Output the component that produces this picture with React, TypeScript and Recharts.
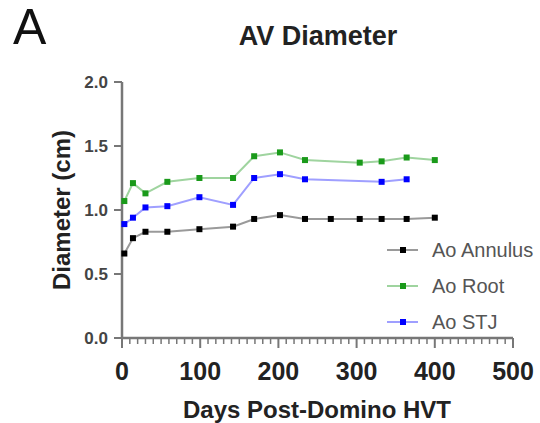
import React from 'react';
import { LineChart, Line, XAxis, YAxis, Legend } from 'recharts';

// ---- data ----
const ANNULUS_DAYS = [3, 14, 30, 58, 99, 142, 169, 202, 234, 267, 304, 332, 364, 400];
const ANNULUS_VALUES = [0.66, 0.78, 0.83, 0.83, 0.85, 0.87, 0.93, 0.96, 0.93, 0.93, 0.93, 0.93, 0.93, 0.94];

const ROOT_DAYS = [3, 14, 30, 58, 99, 142, 169, 202, 234, 304, 332, 364, 400];
const ROOT_VALUES = [1.07, 1.21, 1.13, 1.22, 1.25, 1.25, 1.42, 1.45, 1.39, 1.37, 1.38, 1.41, 1.39];

const STJ_DAYS = [3, 14, 30, 58, 99, 142, 169, 202, 234, 332, 364];
const STJ_VALUES = [0.89, 0.94, 1.02, 1.03, 1.10, 1.04, 1.25, 1.28, 1.24, 1.22, 1.24];

const SERIES_NAMES = ['Ao Annulus', 'Ao Root', 'Ao STJ'];
const X_MAJOR_STEP = 100;
const X_TICKS = Array.from({ length: 51 }, (_, i) => i * 10); // minor ticks every 10, labels every 100
const Y_TICKS = [0, 0.5, 1.0, 1.5, 2.0];

const TITLE = 'AV Diameter';
const PANEL = 'A';
const X_LABEL = 'Days Post-Domino HVT';
const Y_LABEL = 'Diameter (cm)';

const toData = (days: number[], vals: number[]) => days.map((d, i) => ({ day: d, value: vals[i] }));
const annulusData = toData(ANNULUS_DAYS, ANNULUS_VALUES);
const rootData = toData(ROOT_DAYS, ROOT_VALUES);
const stjData = toData(STJ_DAYS, STJ_VALUES);

const FONT = '"Liberation Sans", Arial, sans-serif';
const AXIS = '#777';

const MARKER = ['#000000', '#1a9a1a', '#0000ff'];
const LINE = ['#9a9a9a', '#9fd49f', '#9f9fff'];

const squareDot = (color: string) => (props: any) => {
  const { cx, cy, index } = props;
  if (cx == null || cy == null) return <g key={`e${index}`} />;
  return <rect key={`d${index}`} x={cx - 3} y={cy - 3} width={6} height={6} fill={color} />;
};

// y is the axis line position (tickSize/tickMargin are 0): draws minor/major tick marks and major labels
const XTick = (props: any) => {
  const { x, y, payload } = props;
  const v = Number(payload.value);
  const major = v % X_MAJOR_STEP === 0;
  return (
    <g>
      <line x1={x} x2={x} y1={y} y2={y + (major ? 10 : 6)} stroke={AXIS} strokeWidth={major ? 2 : 1.5} />
      {major && (
        <text
          x={x}
          y={y + 33}
          textAnchor="middle"
          dominantBaseline="central"
          fontSize={25}
          fontWeight="bold"
          fill="#222"
          fontFamily={FONT}
        >
          {v}
        </text>
      )}
    </g>
  );
};

const renderLegend = () => (
  <div style={{ display: 'flex', flexDirection: 'column', fontFamily: FONT }}>
    {SERIES_NAMES.map((name, i) => (
      <div key={name} style={{ display: 'flex', alignItems: 'center', height: 36, whiteSpace: 'nowrap' }}>
        <svg width={40} height={10} style={{ display: 'block' }}>
          <line x1={7} x2={38} y1={5} y2={5} stroke={LINE[i]} strokeWidth={2} />
          <rect x={20} y={2} width={6} height={6} fill={MARKER[i]} />
        </svg>
        <span style={{ marginLeft: 12, fontSize: 20, color: '#555', lineHeight: 1 }}>{name}</span>
      </div>
    ))}
  </div>
);

const textBase: React.CSSProperties = {
  position: 'absolute',
  whiteSpace: 'nowrap',
  lineHeight: 1,
  fontFamily: FONT,
  pointerEvents: 'none',
};

export default function App() {
  return (
    <div style={{ position: 'absolute', left: 0, top: 0, width: 540, height: 423 }}>
      <LineChart width={540} height={423} margin={{ top: 82, right: 27, bottom: 84, left: 121 }}>
        <XAxis
          type="number"
          dataKey="day"
          domain={[0, 500]}
          ticks={X_TICKS}
          interval={0}
          height={1}
          tickSize={0}
          tickMargin={0}
          tickLine={false}
          axisLine={{ stroke: AXIS, strokeWidth: 2.5 }}
          tick={<XTick />}
        />
        <YAxis
          type="number"
          domain={[0, 2]}
          ticks={Y_TICKS}
          interval={0}
          width={1}
          tickSize={8}
          tickMargin={6}
          tickFormatter={(v: number) => v.toFixed(1)}
          axisLine={{ stroke: AXIS, strokeWidth: 2.5 }}
          tickLine={{ stroke: AXIS, strokeWidth: 2 }}
          tick={{ fontSize: 17, fontWeight: 'bold', fill: '#444', fontFamily: FONT }}
        />
        <Line
          data={annulusData}
          dataKey="value"
          name={SERIES_NAMES[0]}
          type="linear"
          stroke={LINE[0]}
          strokeWidth={2}
          dot={squareDot(MARKER[0])}
          isAnimationActive={false}
        />
        <Line
          data={rootData}
          dataKey="value"
          name={SERIES_NAMES[1]}
          type="linear"
          stroke={LINE[1]}
          strokeWidth={2}
          dot={squareDot(MARKER[1])}
          isAnimationActive={false}
        />
        <Line
          data={stjData}
          dataKey="value"
          name={SERIES_NAMES[2]}
          type="linear"
          stroke={LINE[2]}
          strokeWidth={2}
          dot={squareDot(MARKER[2])}
          isAnimationActive={false}
        />
        <Legend
          layout="horizontal"
          verticalAlign="middle"
          align="center"
          content={renderLegend}
          wrapperStyle={{ position: 'absolute', left: 380, top: 232, width: 170, height: 108, margin: 0 }}
        />
      </LineChart>
      <div style={{ ...textBase, left: 13, top: 2, fontSize: 50, color: '#111' }}>{PANEL}</div>
      <div
        style={{
          ...textBase,
          left: 318,
          top: 36,
          transform: 'translate(-50%, -50%)',
          fontSize: 27,
          fontWeight: 'bold',
          color: '#222',
        }}
      >
        {TITLE}
      </div>
      <div
        style={{
          ...textBase,
          left: 317,
          top: 410,
          transform: 'translate(-50%, -50%)',
          fontSize: 24,
          fontWeight: 'bold',
          color: '#222',
        }}
      >
        {X_LABEL}
      </div>
      <div
        style={{
          ...textBase,
          left: 62,
          top: 210,
          transform: 'translate(-50%, -50%) rotate(-90deg)',
          fontSize: 24,
          fontWeight: 'bold',
          color: '#222',
        }}
      >
        {Y_LABEL}
      </div>
    </div>
  );
}
